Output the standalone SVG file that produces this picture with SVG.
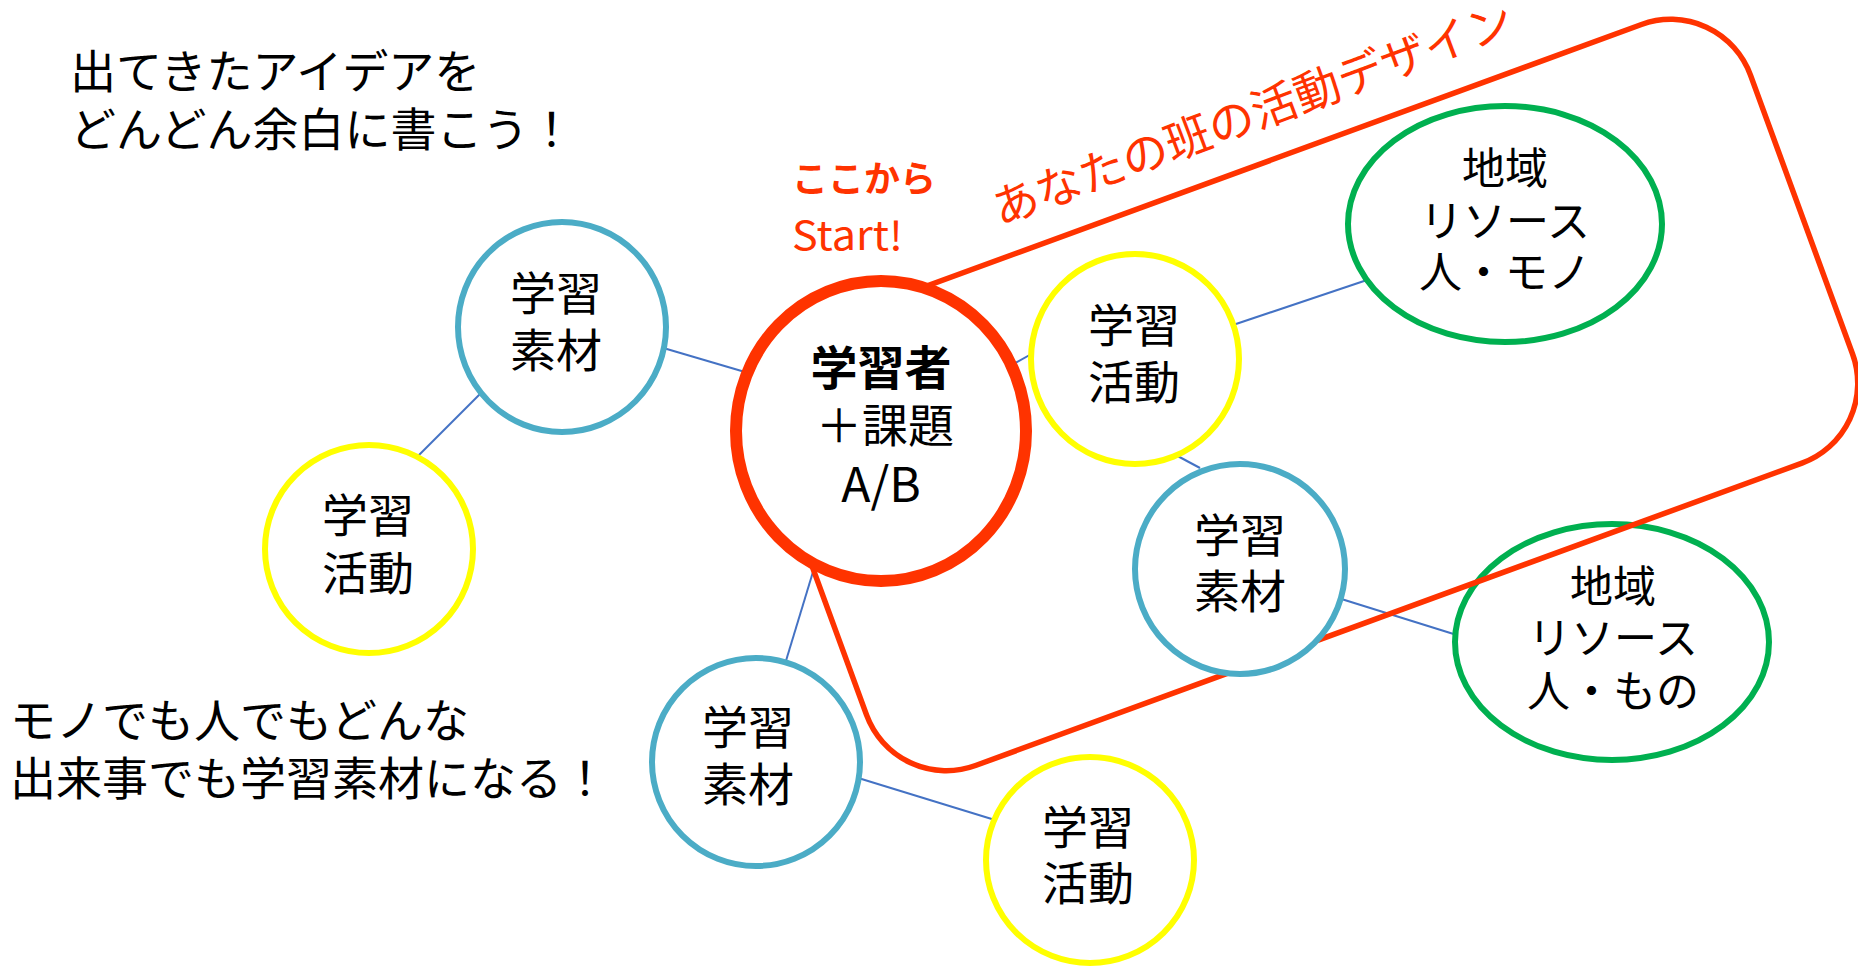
<svg xmlns="http://www.w3.org/2000/svg" width="1858" height="966" viewBox="0 0 1858 966">
<style>
text{font-family:"Noto Sans CJK JP","Noto Sans",sans-serif;fill:#000;}
.n{font-size:46px;text-anchor:middle;}
.g{font-size:43px;text-anchor:middle;}
.note{font-size:46px;}
.red{fill:#FF3300;}
.c{stroke:#4472C4;stroke-width:2;fill:none;}
.blue{fill:#fff;stroke:#4BACC6;stroke-width:6;}
.yel{fill:#fff;stroke:#FFFF00;stroke-width:6;}
.grn{fill:#fff;stroke:#00B050;stroke-width:6;}
</style>
<rect width="1858" height="966" fill="#fff"/>
<g id="notes">
<text class="note" x="70" y="88">出てきたアイデアを</text>
<text class="note" x="70" y="146">どんどん余白に書こう！</text>
<text class="note" x="10" y="737">モノでも人でもどんな</text>
<text class="note" x="10" y="795">出来事でも学習素材になる！</text>
</g>
<g id="connectors">
<line class="c" x1="660" y1="347" x2="745" y2="372"/>
<line class="c" x1="485" y1="389" x2="415" y2="459"/>
<line class="c" x1="1010" y1="366" x2="1035" y2="352"/>
<line class="c" x1="1230" y1="326" x2="1370" y2="279"/>
<line class="c" x1="1172" y1="453" x2="1200" y2="468"/>
<line class="c" x1="1335" y1="597" x2="1460" y2="636"/>
<line class="c" x1="816" y1="562" x2="785" y2="664"/>
<line class="c" x1="855" y1="777" x2="995" y2="820"/>
</g>
<g id="node-chiiki2">
<ellipse class="grn" cx="1612" cy="642" rx="157" ry="118"/>
<text class="g" x="1613" y="602">地域</text>
<text class="g" x="1613" y="654">リソース</text>
<text class="g" x="1613" y="707">人・もの</text>
</g>
<g id="frame">
<rect x="783.5" y="161.5" width="1050" height="467" rx="85" ry="85" fill="none" stroke="#FF3300" stroke-width="5.5" transform="rotate(-20.1 1308.5 395)"/>
<text class="red" font-size="46" x="1000" y="226" transform="rotate(-20.5 1000 226)">あなたの班の活動デザイン</text>
</g>
<g id="start">
<text class="red" font-size="36" font-weight="bold" x="792" y="192">ここから</text>
<text class="red" font-size="40" x="792" y="250" textLength="111" lengthAdjust="spacingAndGlyphs">Start!</text>
</g>
<g id="node-main">
<ellipse cx="881" cy="431" rx="145" ry="150" fill="#fff" stroke="#FF3300" stroke-width="12"/>
<text x="881" y="385" font-size="47" font-weight="bold" text-anchor="middle">学習者</text>
<text x="885" y="442" font-size="46" text-anchor="middle">＋課題</text>
<text x="881" y="502" font-size="48" text-anchor="middle">A/B</text>
</g>
<g id="node-sozai1">
<ellipse class="blue" cx="562" cy="327" rx="104" ry="105"/>
<text class="n" x="556" y="310">学習</text>
<text class="n" x="556" y="367">素材</text>
</g>
<g id="node-katsudo1">
<ellipse class="yel" cx="369" cy="549" rx="104" ry="104"/>
<text class="n" x="368" y="532">学習</text>
<text class="n" x="368" y="590">活動</text>
</g>
<g id="node-katsudo2">
<ellipse class="yel" cx="1135" cy="359" rx="104" ry="105"/>
<text class="n" x="1134" y="342">学習</text>
<text class="n" x="1134" y="399">活動</text>
</g>
<g id="node-chiiki1">
<ellipse class="grn" cx="1505" cy="224" rx="157" ry="118"/>
<text class="g" x="1505" y="184">地域</text>
<text class="g" x="1505" y="237">リソース</text>
<text class="g" x="1505" y="288">人・モノ</text>
</g>
<g id="node-sozai2">
<ellipse class="blue" cx="1240" cy="569" rx="105" ry="105"/>
<text class="n" x="1240" y="552">学習</text>
<text class="n" x="1240" y="608">素材</text>
</g>
<g id="node-sozai3">
<ellipse class="blue" cx="756" cy="762" rx="104" ry="104"/>
<text class="n" x="748" y="744">学習</text>
<text class="n" x="748" y="801">素材</text>
</g>
<g id="node-katsudo3">
<ellipse class="yel" cx="1090" cy="860" rx="104" ry="103"/>
<text class="n" x="1088" y="844">学習</text>
<text class="n" x="1088" y="900">活動</text>
</g>
</svg>
